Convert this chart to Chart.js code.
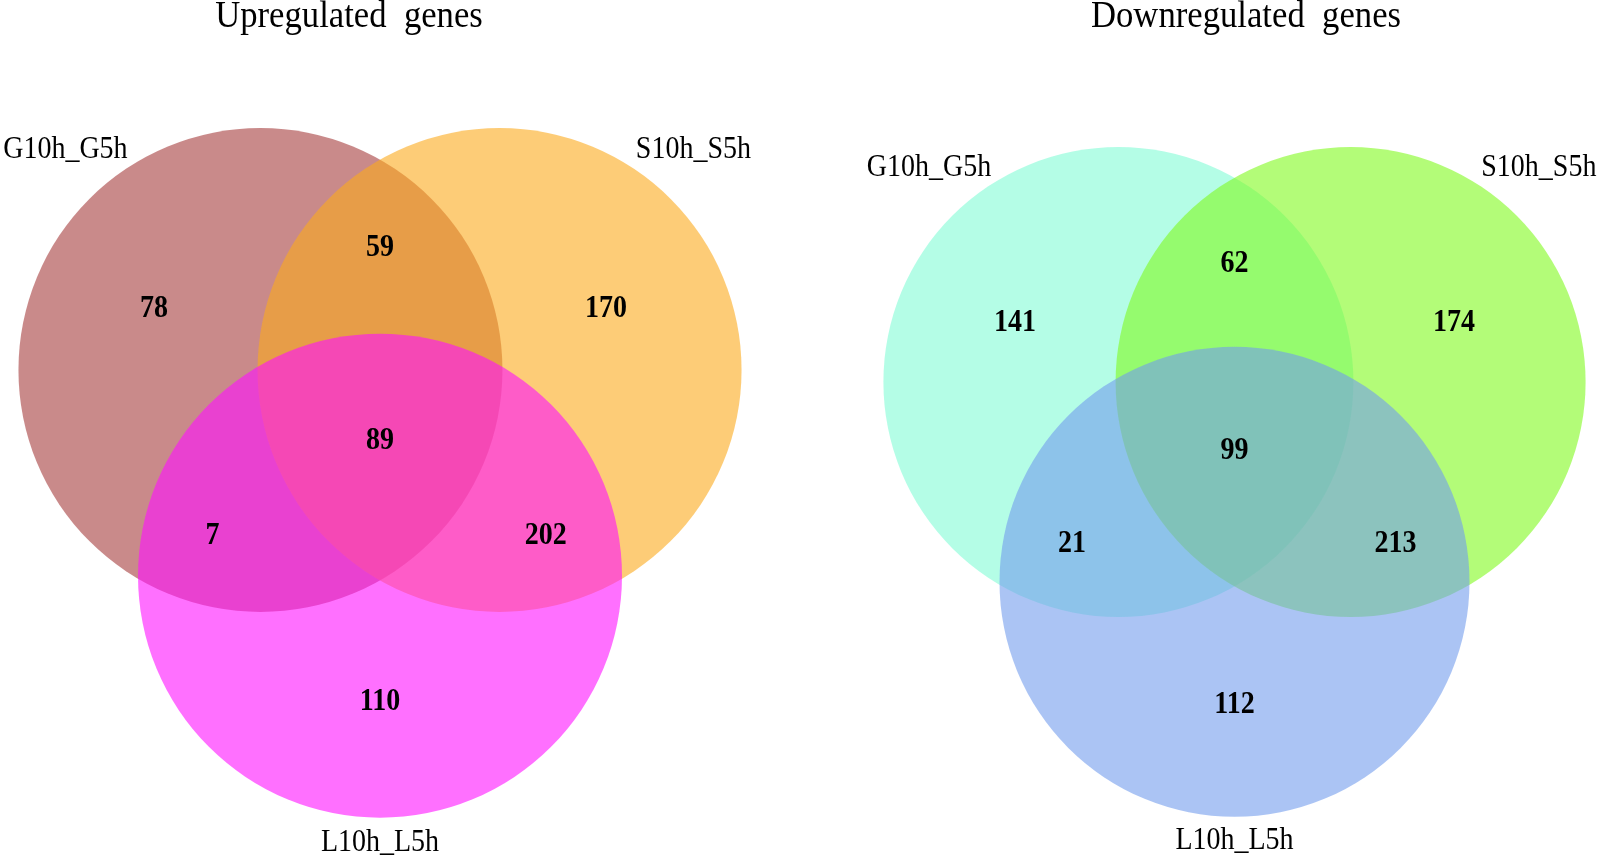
<!DOCTYPE html>
<html>
<head>
<meta charset="utf-8">
<script src="https://cdn.jsdelivr.net/npm/chart.js@4.4.1/dist/chart.umd.min.js"></script>
<style>
  html, body { margin: 0; padding: 0; background: #ffffff; }
  #wrap { width: 1600px; height: 860px; }
</style>
</head>
<body>
<div id="wrap"><canvas id="venn"></canvas></div>
<script>
// data
const setNames = ["G10h_G5h", "S10h_S5h", "L10h_L5h"];
// regions: A only, A&B, B only, A&B&C, A&C, B&C, C only
const regionKeys = ["A", "AB", "B", "ABC", "AC", "BC", "C"];
const upCounts = [78, 59, 170, 89, 7, 202, 110];
const downCounts = [141, 62, 174, 99, 21, 213, 112];
const panelTitles = ["Upregulated  genes", "Downregulated  genes"];

// venn layout, in units of the circle radius
const circleOffsets = [[-0.494, 0], [0.494, 0], [0, 0.85]];
const regionOffsets = [
  [-0.934, -0.252], [0, -0.505], [0.934, -0.252],
  [0, 0.294], [-0.692, 0.686], [0.685, 0.686], [0, 1.371]
];
const setLabelOffsets = [[-1.30, -0.91], [1.295, -0.91], [0, 1.953]];

const panels = [
  {
    cx: 380, cy: 370, r: 242, titleX: 349, titleY: 17,
    counts: upCounts,
    colors: ["rgba(165,60,60,0.6)", "rgba(252,170,28,0.6)", "rgba(255,17,255,0.6)"]
  },
  {
    cx: 1234.5, cy: 382, r: 235, titleX: 1246, titleY: 17,
    counts: downCounts,
    colors: ["rgba(130,252,213,0.6)", "rgba(128,250,30,0.6)", "rgba(115,157,237,0.6)"]
  }
];

const SERIF = "'Liberation Serif', 'Times New Roman', serif";

function radiusPx(chart, r) {
  const x = chart.scales.x;
  return Math.abs(x.getPixelForValue(r) - x.getPixelForValue(0));
}

// the reference text is a little taller than it is wide
function tallText(ctx, text, x, y, sx, sy) {
  ctx.save();
  ctx.translate(x, y);
  ctx.scale(sx, sy);
  ctx.fillText(text, 0, 0);
  ctx.restore();
}

const vennText = {
  id: "vennText",
  afterDatasetsDraw(chart) {
    const { ctx, scales } = chart;
    const px = (v) => scales.x.getPixelForValue(v);
    const py = (v) => scales.y.getPixelForValue(v);
    ctx.save();
    ctx.fillStyle = "#000000";
    ctx.textAlign = "center";
    ctx.textBaseline = "middle";
    panels.forEach((p, i) => {
      ctx.font = "34px " + SERIF;
      tallText(ctx, panelTitles[i], px(p.titleX), py(p.titleY), 1.02, 1.12);

      ctx.font = "28px " + SERIF;
      setNames.forEach((name, k) => {
        const o = setLabelOffsets[k];
        tallText(ctx, name, px(p.cx + o[0] * p.r), py(p.cy + o[1] * p.r), 1.0, 1.12);
      });

      ctx.font = "bold 28px " + SERIF;
      p.counts.forEach((n, k) => {
        const o = regionOffsets[k];
        tallText(ctx, String(n), px(p.cx + o[0] * p.r), py(p.cy + o[1] * p.r), 1.0, 1.15);
      });
    });
    ctx.restore();
  }
};

new Chart(document.getElementById("venn"), {
  type: "scatter",
  data: {
    datasets: panels.map((p, i) => ({
      label: panelTitles[i],
      data: circleOffsets.map((o) => ({ x: p.cx + o[0] * p.r, y: p.cy + o[1] * p.r })),
      backgroundColor: p.colors,
      borderWidth: 0,
      pointBorderWidth: 0,
      pointRadius: (c) => radiusPx(c.chart, p.r),
      pointHoverRadius: (c) => radiusPx(c.chart, p.r),
      clip: false
    }))
  },
  options: {
    responsive: true,
    maintainAspectRatio: false,
    animation: false,
    events: [],
    layout: { padding: 0 },
    plugins: {
      legend: { display: false },
      tooltip: { enabled: false },
      title: { display: false }
    },
    scales: {
      x: { type: "linear", min: 0, max: 1600, display: false },
      y: { type: "linear", min: 0, max: 860, reverse: true, display: false }
    }
  },
  plugins: [vennText]
});
</script>
</body>
</html>
